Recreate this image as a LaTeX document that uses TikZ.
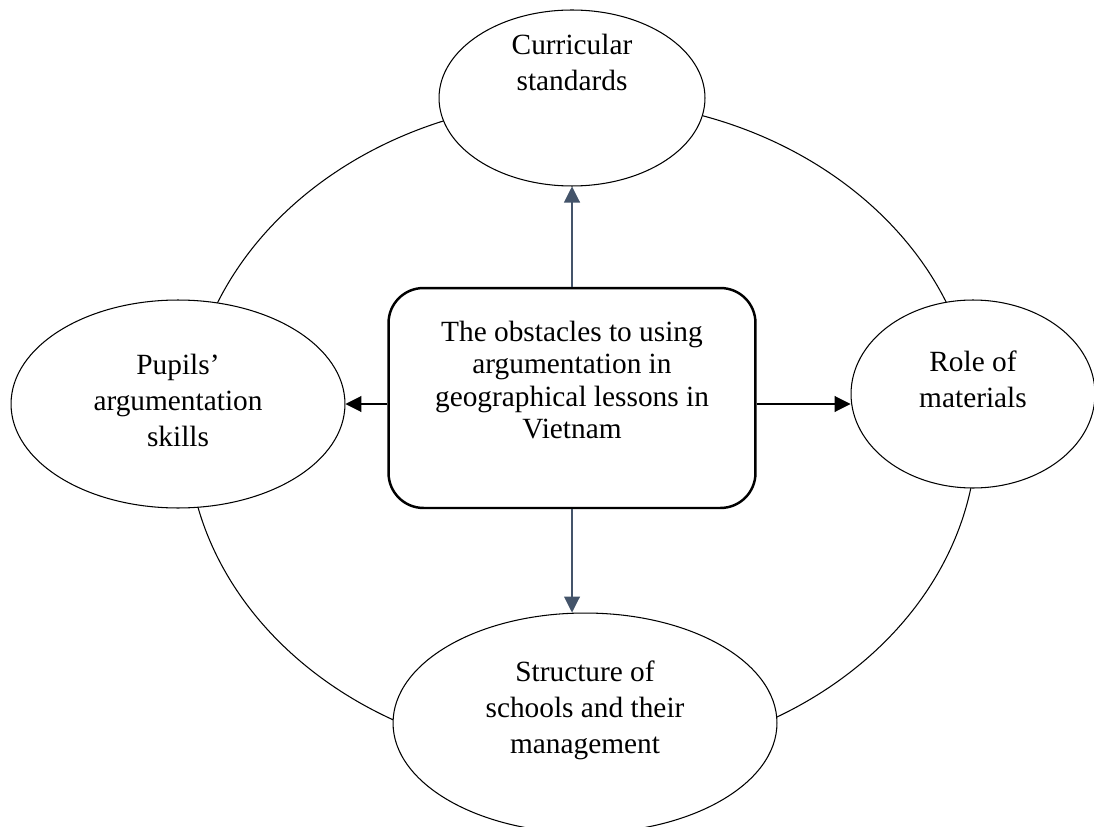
\documentclass[tikz,border=0pt]{standalone}
\usepackage{fontspec}
\setmainfont{Liberation Serif}
\usetikzlibrary{arrows.meta, shapes.geometric}

\definecolor{slate}{HTML}{44546A}

\begin{document}
\begin{tikzpicture}[x=0.02cm, y=-0.02cm,
  bubble/.style={draw, ellipse, fill=white, line width=0.6pt, inner sep=0pt},
  btext/.style={align=center, font=\fontsize{16.7}{20.5}\selectfont},
  centrebox/.style={draw, rounded corners=0.7cm, fill=white, line width=1.4pt,
    minimum width=7.34cm, minimum height=4.4cm},
  link/.style={-{Triangle[length=0.32cm, width=0.32cm]}, line width=0.6pt},
]
  \useasboundingbox (0,0) rectangle (1094,827);
  \clip (0,0) rectangle (1094,827);
  \coordinate (ring) at (582,430);
  \draw[line width=0.6pt] (ring) ellipse [x radius=7.9cm, y radius=6.6cm];
  \node[bubble, minimum width=5.32cm, minimum height=3.52cm] (curr) at (572,98) {};
  \node[bubble, minimum width=6.68cm, minimum height=4.16cm] (pupils) at (178,404) {};
  \node[bubble, minimum width=4.88cm, minimum height=3.76cm] (mat) at (973,394) {};
  \node[bubble, minimum width=7.68cm, minimum height=4.4cm] (stru) at (585,723) {};
  \node[centrebox] (obst) at (572,398) {};
  \node[btext, yshift=0.72cm] (curr-t) at (curr) {Curricular\\standards};
  \node[btext, yshift=0.08cm] (pupils-t) at (pupils) {Pupils’\\argumentation\\skills};
  \node[btext, yshift=0.3cm] (mat-t) at (mat) {Role of\\materials};
  \node[btext, yshift=0.26cm] (stru-t) at (stru) {Structure of\\schools and their\\management};
  \node[btext, font=\fontsize{16.7}{18.5}\selectfont, yshift=0.36cm] (obst-t) at (obst)
    {The obstacles to using\\argumentation in\\geographical lessons in\\Vietnam};
  % arrows out of the box
  \coordinate (lhit) at (obst.west |- pupils.east);
  \coordinate (rhit) at (mat.west |- pupils.east);
  \draw[link, slate] (obst.north) -- (curr.south);
  \draw[link, slate] (obst.south) -- (obst.south |- stru.north);
  \draw[link] (lhit) -- (pupils.east);
  \draw[link] (obst.east |- lhit) -- (rhit);
\end{tikzpicture}
\end{document}
